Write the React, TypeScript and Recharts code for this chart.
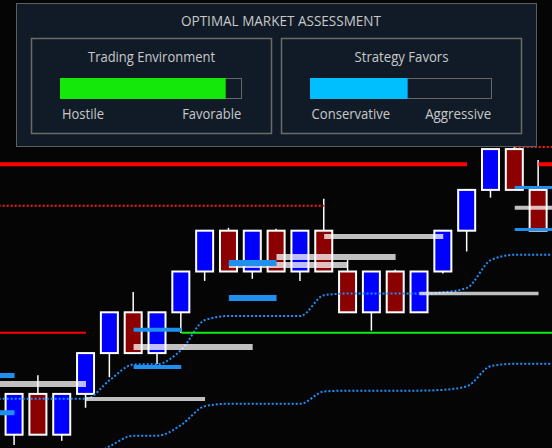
import React from 'react';
import { ComposedChart, Bar, Line, XAxis, YAxis, ReferenceLine } from 'recharts';

// ---- candle data (renko-like bricks) ----
const opens = [4400, 4410, 4400, 4410, 4420, 4430, 4420, 4430, 4440, 4450, 4440, 4450, 4440, 4450, 4440, 4430, 4440, 4430, 4440, 4450, 4460, 4470, 4460];
const closes = [4410, 4400, 4410, 4420, 4430, 4420, 4430, 4440, 4450, 4440, 4450, 4440, 4450, 4440, 4430, 4440, 4430, 4440, 4450, 4460, 4470, 4460, 4450];
const highs = [4410, 4414.6, 4410, 4420, 4430, 4435, 4430, 4440, 4450, 4450.7, 4450, 4450.5, 4450, 4457.8, 4442.8, 4440, 4440.4, 4440, 4450, 4460, 4470, 4470.6, 4467.3];
const lows = [4397.5, 4400, 4398.5, 4406.6, 4414.1, 4420, 4417.3, 4424.9, 4437.7, 4440, 4438.2, 4440, 4437.7, 4440, 4430, 4425.5, 4430, 4430, 4439.5, 4444.9, 4458.1, 4460, 4450];

// ---- dotted channel bands ----
const upperBand = [4408.8, 4408.8, 4408.8, 4408.8, 4413.4, 4417.2, 4417.3, 4420.8, 4428.1, 4429.1, 4429.1, 4429.1, 4429.1, 4434.2, 4434.6, 4434.6, 4434.6, 4434.6, 4434.9, 4436.0, 4442.8, 4444.1, 4444.1];
const lowerBand = [4394.3, 4394.3, 4394.3, 4394.3, 4397.2, 4399.75, 4399.75, 4402.4, 4407.0, 4407.6, 4407.6, 4407.6, 4407.6, 4410.6, 4410.8, 4410.8, 4410.8, 4410.8, 4411.0, 4411.9, 4416.8, 4417.4, 4417.4];

// ---- level zones (from candle index, to candle index, price, strength) ----
const grayZones = [
  { from: -1, to: 3, price: 4412.4, strength: 3 },
  { from: 3, to: 8, price: 4408.75, strength: 2 },
  { from: 5, to: 10, price: 4421.5, strength: 3 },
  { from: 9, to: 14, price: 4441.6, strength: 3 },
  { from: 11, to: 16, price: 4443.55, strength: 3 },
  { from: 13, to: 18, price: 4448.6, strength: 2.5 },
  { from: 17, to: 22, price: 4434.6, strength: 1.75 },
  { from: 21, to: 26, price: 4455.6, strength: 2 },
];
const blueZones = [
  { from: -2, to: 0, price: 4414.5, strength: 2.5 },
  { from: -2, to: 0, price: 4405.4, strength: 2.5 },
  { from: 5, to: 7, price: 4425.7, strength: 2 },
  { from: 5, to: 7, price: 4416.6, strength: 2 },
  { from: 9, to: 11, price: 4433.5, strength: 3 },
  { from: 9, to: 11, price: 4442.1, strength: 3 },
  { from: 21, to: 24, price: 4460.6, strength: 1.5 },
  { from: 21, to: 24, price: 4450.3, strength: 1.5 },
];
const resistanceLines = [
  { from: -1, to: 19, price: 4466.3, strength: 2 },
  { from: 22, to: 24, price: 4466.3, strength: 2 },
  { from: -1, to: 3, price: 4425, strength: 1 },
];
const supportLines = [{ from: 7, to: 24, price: 4425, strength: 1 }];
const pendingLines = [
  { from: -1, to: 13, price: 4456.1 },
  { from: 21, to: 24, price: 4470.5 },
];

// ---- assessment panel ----
const panelTitle = 'OPTIMAL MARKET ASSESSMENT';
const environmentScore = 0.913;
const strategyScore = 0.538;

const X_DOMAIN: [number, number] = [-0.6087, 22.565];
const Y_DOMAIN: [number, number] = [4396.74, 4506.54];

const rows = (() => {
  const out: any[] = [];
  out.push({ i: -1, up: upperBand[0], lo: lowerBand[0] });
  opens.forEach((o, k) => {
    out.push({ i: k, o, c: closes[k], h: highs[k], l: lows[k], up: upperBand[k], lo: lowerBand[k] });
  });
  const n = opens.length - 1;
  out.push({ i: n + 1, up: upperBand[n], lo: lowerBand[n] });
  return out;
})();

const Candle = (props: any) => {
  const { x, width, payload } = props;
  let { y, height } = props;
  if (!payload || payload.o == null || y == null) return null;
  if (height < 0) {
    y = y + height;
    height = -height;
  }
  const { o, c, h, l } = payload;
  const ppu = height / (h - l);
  const top = Math.max(o, c);
  const bot = Math.min(o, c);
  const yTop = y + (h - top) * ppu;
  const yBot = y + (h - bot) * ppu;
  const cx = x + width / 2;
  const up = c > o;
  return (
    <g>
      {h > top && <line x1={cx} x2={cx} y1={y} y2={yTop} stroke="#ffffff" strokeWidth={1.5} />}
      {l < bot && <line x1={cx} x2={cx} y1={yBot} y2={y + height} stroke="#ffffff" strokeWidth={1.5} />}
      <rect x={x} y={yTop} width={width} height={yBot - yTop} fill={up ? '#0000ff' : '#8b0000'} stroke="#ffffff" strokeWidth={2} />
    </g>
  );
};

const seg = (z: { from: number; to: number; price: number }) => [
  { x: z.from, y: z.price },
  { x: z.to, y: z.price },
];

const textStyle = { fontFamily: '"Open Sans", "Noto Sans", sans-serif', fontSize: 14, fill: '#c8c8c8' } as any;

export default function App() {
  return (
    <div style={{ position: 'fixed', left: 0, top: 0, width: 552, height: 448, background: '#050505', overflow: 'hidden' }}>
      <ComposedChart width={552} height={448} data={rows} margin={{ top: 0, right: 0, bottom: 0, left: 0 }}>
        <XAxis type="number" dataKey="i" domain={X_DOMAIN} allowDataOverflow hide />
        <YAxis type="number" domain={Y_DOMAIN} allowDataOverflow hide />
        <Bar
          dataKey={(d: any) => (d.o == null ? null : [d.l, d.h])}
          barSize={17}
          shape={<Candle />}
          isAnimationActive={false}
        />
        <Line type="monotone" dataKey="up" stroke="#1e90ff" strokeWidth={2} strokeDasharray="2 2" dot={false} activeDot={false} isAnimationActive={false} />
        <Line type="monotone" dataKey="lo" stroke="#1e90ff" strokeWidth={2} strokeDasharray="2 2" dot={false} activeDot={false} isAnimationActive={false} />
        {pendingLines.map((z, k) => (
          <ReferenceLine key={'p' + k} segment={seg(z)} ifOverflow="visible" stroke="#ff1a1a" strokeWidth={2} strokeDasharray="2 2" />
        ))}
        {resistanceLines.map((z, k) => (
          <ReferenceLine key={'r' + k} segment={seg(z)} ifOverflow="visible" stroke="#ff0000" strokeWidth={z.strength * 2} />
        ))}
        {supportLines.map((z, k) => (
          <ReferenceLine key={'s' + k} segment={seg(z)} ifOverflow="visible" stroke="#11ee11" strokeWidth={z.strength * 2} />
        ))}
        {grayZones.map((z, k) => (
          <ReferenceLine key={'g' + k} segment={seg(z)} ifOverflow="visible" stroke="#ffffff" strokeOpacity={0.75} strokeWidth={z.strength * 2} />
        ))}
        {blueZones.map((z, k) => (
          <ReferenceLine key={'b' + k} segment={seg(z)} ifOverflow="visible" stroke="#2090f0" strokeWidth={z.strength * 2} />
        ))}
      </ComposedChart>
      <svg width={552} height={448} style={{ position: 'absolute', left: 0, top: 0, pointerEvents: 'none' }}>
        <rect x={16.5} y={3.5} width={520} height={143} fill="#111b27" stroke="#5e5e5e" strokeWidth={1} />
        <text x={281} y={26} textAnchor="middle" textLength={200} lengthAdjust="spacingAndGlyphs" style={textStyle}>{panelTitle}</text>

        <rect x={31.5} y={38.5} width={240} height={95} fill="none" stroke="#6a6a6a" strokeWidth={1.5} />
        <text x={151.5} y={61.5} textAnchor="middle" textLength={127} lengthAdjust="spacingAndGlyphs" style={textStyle}>Trading Environment</text>
        <rect x={60.5} y={78.5} width={181} height={20} fill="none" stroke="#666666" strokeWidth={1} />
        <rect x={60} y={78} width={181.5 * environmentScore} height={21} fill="#14e80a" />
        <text x={62} y={119.3} textLength={42} lengthAdjust="spacingAndGlyphs" style={textStyle}>Hostile</text>
        <text x={241.2} y={119.3} textAnchor="end" textLength={59} lengthAdjust="spacingAndGlyphs" style={textStyle}>Favorable</text>

        <rect x={281.5} y={38.5} width={240} height={95} fill="none" stroke="#6a6a6a" strokeWidth={1.5} />
        <text x={401.5} y={61.5} textAnchor="middle" textLength={94} lengthAdjust="spacingAndGlyphs" style={textStyle}>Strategy Favors</text>
        <rect x={310.5} y={78.5} width={181} height={20} fill="none" stroke="#666666" strokeWidth={1} />
        <rect x={310} y={78} width={181.5 * strategyScore} height={21} fill="#00bfff" />
        <text x={311.6} y={119.3} textLength={78.5} lengthAdjust="spacingAndGlyphs" style={textStyle}>Conservative</text>
        <text x={491.2} y={119.3} textAnchor="end" textLength={66} lengthAdjust="spacingAndGlyphs" style={textStyle}>Aggressive</text>
      </svg>
    </div>
  );
}
